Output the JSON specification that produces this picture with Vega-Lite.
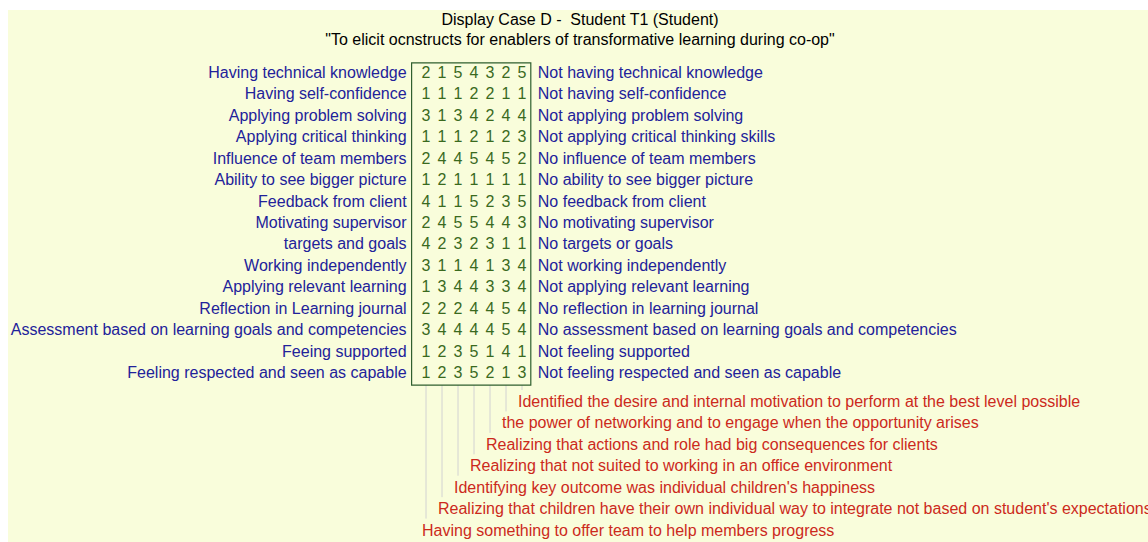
{
  "$schema": "https://vega.github.io/schema/vega-lite/v6.json",
  "width": 1140,
  "height": 532,
  "autosize": {"type": "none"},
  "padding": {"left": 8, "top": 10, "right": 0, "bottom": 0},
  "background": "white",
  "view": {"fill": "#f9fddb", "stroke": null},
  "config": {"font": "Liberation Sans"},
  "title": {
    "text": ["Display Case D - \u00a0Student T1 (Student)", "\"To elicit ocnstructs for enablers of transformative learning during co-op\""],
    "fontSize": 16,
    "fontWeight": "normal",
    "color": "black",
    "anchor": "middle",
    "frame": "group",
    "baseline": "bottom",
    "lineHeight": 20,
    "offset": -54,
    "dx": 2
  },
  "datasets": {
    "constructs": [
      {"r": 1, "left": "Having technical knowledge", "right": "Not having technical knowledge"},
      {"r": 2, "left": "Having self-confidence", "right": "Not having self-confidence"},
      {"r": 3, "left": "Applying problem solving", "right": "Not applying problem solving"},
      {"r": 4, "left": "Applying critical thinking", "right": "Not applying critical thinking skills"},
      {"r": 5, "left": "Influence of team members", "right": "No influence of team members"},
      {"r": 6, "left": "Ability to see bigger picture", "right": "No ability to see bigger picture"},
      {"r": 7, "left": "Feedback from client", "right": "No feedback from client"},
      {"r": 8, "left": "Motivating supervisor", "right": "No motivating supervisor"},
      {"r": 9, "left": "targets and goals", "right": "No targets or goals"},
      {"r": 10, "left": "Working independently", "right": "Not working independently"},
      {"r": 11, "left": "Applying relevant learning", "right": "Not applying relevant learning"},
      {"r": 12, "left": "Reflection in Learning journal", "right": "No reflection in learning journal"},
      {"r": 13, "left": "Assessment based on learning goals and competencies", "right": "No assessment based on learning goals and competencies"},
      {"r": 14, "left": "Feeing supported", "right": "Not feeling supported"},
      {"r": 15, "left": "Feeling respected and seen as capable", "right": "Not feeling respected and seen as capable"}
    ],
    "elements": [
      {"c": 1, "r": 22, "name": "Having something to offer team to help members progress"},
      {"c": 2, "r": 21, "name": "Realizing that children have their own individual way to integrate not based on student's expectations"},
      {"c": 3, "r": 20, "name": "Identifying key outcome was individual children's happiness"},
      {"c": 4, "r": 19, "name": "Realizing that not suited to working in an office environment"},
      {"c": 5, "r": 18, "name": "Realizing that actions and role had big consequences for clients"},
      {"c": 6, "r": 17, "name": "the power of networking and to engage when the opportunity arises"},
      {"c": 7, "r": 16, "name": "Identified the desire and internal motivation to perform at the best level possible"}
    ],
    "cells": [
      {"r":1,"c":1,"v":2},{"r":1,"c":2,"v":1},{"r":1,"c":3,"v":5},{"r":1,"c":4,"v":4},{"r":1,"c":5,"v":3},{"r":1,"c":6,"v":2},{"r":1,"c":7,"v":5},
      {"r":2,"c":1,"v":1},{"r":2,"c":2,"v":1},{"r":2,"c":3,"v":1},{"r":2,"c":4,"v":2},{"r":2,"c":5,"v":2},{"r":2,"c":6,"v":1},{"r":2,"c":7,"v":1},
      {"r":3,"c":1,"v":3},{"r":3,"c":2,"v":1},{"r":3,"c":3,"v":3},{"r":3,"c":4,"v":4},{"r":3,"c":5,"v":2},{"r":3,"c":6,"v":4},{"r":3,"c":7,"v":4},
      {"r":4,"c":1,"v":1},{"r":4,"c":2,"v":1},{"r":4,"c":3,"v":1},{"r":4,"c":4,"v":2},{"r":4,"c":5,"v":1},{"r":4,"c":6,"v":2},{"r":4,"c":7,"v":3},
      {"r":5,"c":1,"v":2},{"r":5,"c":2,"v":4},{"r":5,"c":3,"v":4},{"r":5,"c":4,"v":5},{"r":5,"c":5,"v":4},{"r":5,"c":6,"v":5},{"r":5,"c":7,"v":2},
      {"r":6,"c":1,"v":1},{"r":6,"c":2,"v":2},{"r":6,"c":3,"v":1},{"r":6,"c":4,"v":1},{"r":6,"c":5,"v":1},{"r":6,"c":6,"v":1},{"r":6,"c":7,"v":1},
      {"r":7,"c":1,"v":4},{"r":7,"c":2,"v":1},{"r":7,"c":3,"v":1},{"r":7,"c":4,"v":5},{"r":7,"c":5,"v":2},{"r":7,"c":6,"v":3},{"r":7,"c":7,"v":5},
      {"r":8,"c":1,"v":2},{"r":8,"c":2,"v":4},{"r":8,"c":3,"v":5},{"r":8,"c":4,"v":5},{"r":8,"c":5,"v":4},{"r":8,"c":6,"v":4},{"r":8,"c":7,"v":3},
      {"r":9,"c":1,"v":4},{"r":9,"c":2,"v":2},{"r":9,"c":3,"v":3},{"r":9,"c":4,"v":2},{"r":9,"c":5,"v":3},{"r":9,"c":6,"v":1},{"r":9,"c":7,"v":1},
      {"r":10,"c":1,"v":3},{"r":10,"c":2,"v":1},{"r":10,"c":3,"v":1},{"r":10,"c":4,"v":4},{"r":10,"c":5,"v":1},{"r":10,"c":6,"v":3},{"r":10,"c":7,"v":4},
      {"r":11,"c":1,"v":1},{"r":11,"c":2,"v":3},{"r":11,"c":3,"v":4},{"r":11,"c":4,"v":4},{"r":11,"c":5,"v":3},{"r":11,"c":6,"v":3},{"r":11,"c":7,"v":4},
      {"r":12,"c":1,"v":2},{"r":12,"c":2,"v":2},{"r":12,"c":3,"v":2},{"r":12,"c":4,"v":4},{"r":12,"c":5,"v":4},{"r":12,"c":6,"v":5},{"r":12,"c":7,"v":4},
      {"r":13,"c":1,"v":3},{"r":13,"c":2,"v":4},{"r":13,"c":3,"v":4},{"r":13,"c":4,"v":4},{"r":13,"c":5,"v":4},{"r":13,"c":6,"v":5},{"r":13,"c":7,"v":4},
      {"r":14,"c":1,"v":1},{"r":14,"c":2,"v":2},{"r":14,"c":3,"v":3},{"r":14,"c":4,"v":5},{"r":14,"c":5,"v":1},{"r":14,"c":6,"v":4},{"r":14,"c":7,"v":1},
      {"r":15,"c":1,"v":1},{"r":15,"c":2,"v":2},{"r":15,"c":3,"v":3},{"r":15,"c":4,"v":5},{"r":15,"c":5,"v":2},{"r":15,"c":6,"v":1},{"r":15,"c":7,"v":3}
    ]
  },
  "layer": [
    {
      "data": {"name": "elements"},
      "mark": {"type": "rule", "color": "#d2d2d2", "strokeWidth": 1, "yOffset": -4.5},
      "encoding": {
        "x": {"field": "c", "type": "quantitative", "scale": {"domain": [-25.125, 46.125], "nice": false, "zero": false}, "axis": null},
        "y": {"field": "r", "type": "quantitative", "scale": {"domain": [-1.94, 22.883], "nice": false, "zero": false, "reverse": true}, "axis": null},
        "y2": {"datum": 15.56}
      }
    },
    {
      "data": {"values": [{"box": 1}]},
      "mark": {"type": "rect", "fill": null, "stroke": "#2f5f2f", "strokeWidth": 1.2},
      "encoding": {
        "x": {"datum": 0.1, "type": "quantitative"},
        "x2": {"datum": 7.55},
        "y": {"datum": 0.53, "type": "quantitative"},
        "y2": {"datum": 15.56}
      }
    },
    {
      "data": {"name": "cells"},
      "mark": {"type": "text", "fontSize": 16, "color": "#3a6a1e", "align": "center", "baseline": "middle"},
      "encoding": {
        "x": {"field": "c", "type": "quantitative"},
        "y": {"field": "r", "type": "quantitative"},
        "text": {"field": "v", "type": "nominal"}
      }
    },
    {
      "data": {"name": "constructs"},
      "mark": {"type": "text", "fontSize": 16, "color": "#22229a", "align": "right", "baseline": "middle", "dx": -5},
      "encoding": {
        "x": {"datum": 0.1, "type": "quantitative"},
        "y": {"field": "r", "type": "quantitative"},
        "text": {"field": "left", "type": "nominal"}
      }
    },
    {
      "data": {"name": "constructs"},
      "mark": {"type": "text", "fontSize": 16, "color": "#22229a", "align": "left", "baseline": "middle", "dx": 7},
      "encoding": {
        "x": {"datum": 7.55, "type": "quantitative"},
        "y": {"field": "r", "type": "quantitative"},
        "text": {"field": "right", "type": "nominal"}
      }
    },
    {
      "data": {"name": "elements"},
      "mark": {"type": "text", "fontSize": 16, "color": "#cc2a1c", "align": "left", "baseline": "middle", "dx": -4, "dy": 7.5},
      "encoding": {
        "x": {"field": "c", "type": "quantitative"},
        "y": {"field": "r", "type": "quantitative"},
        "text": {"field": "name", "type": "nominal"}
      }
    }
  ]
}
